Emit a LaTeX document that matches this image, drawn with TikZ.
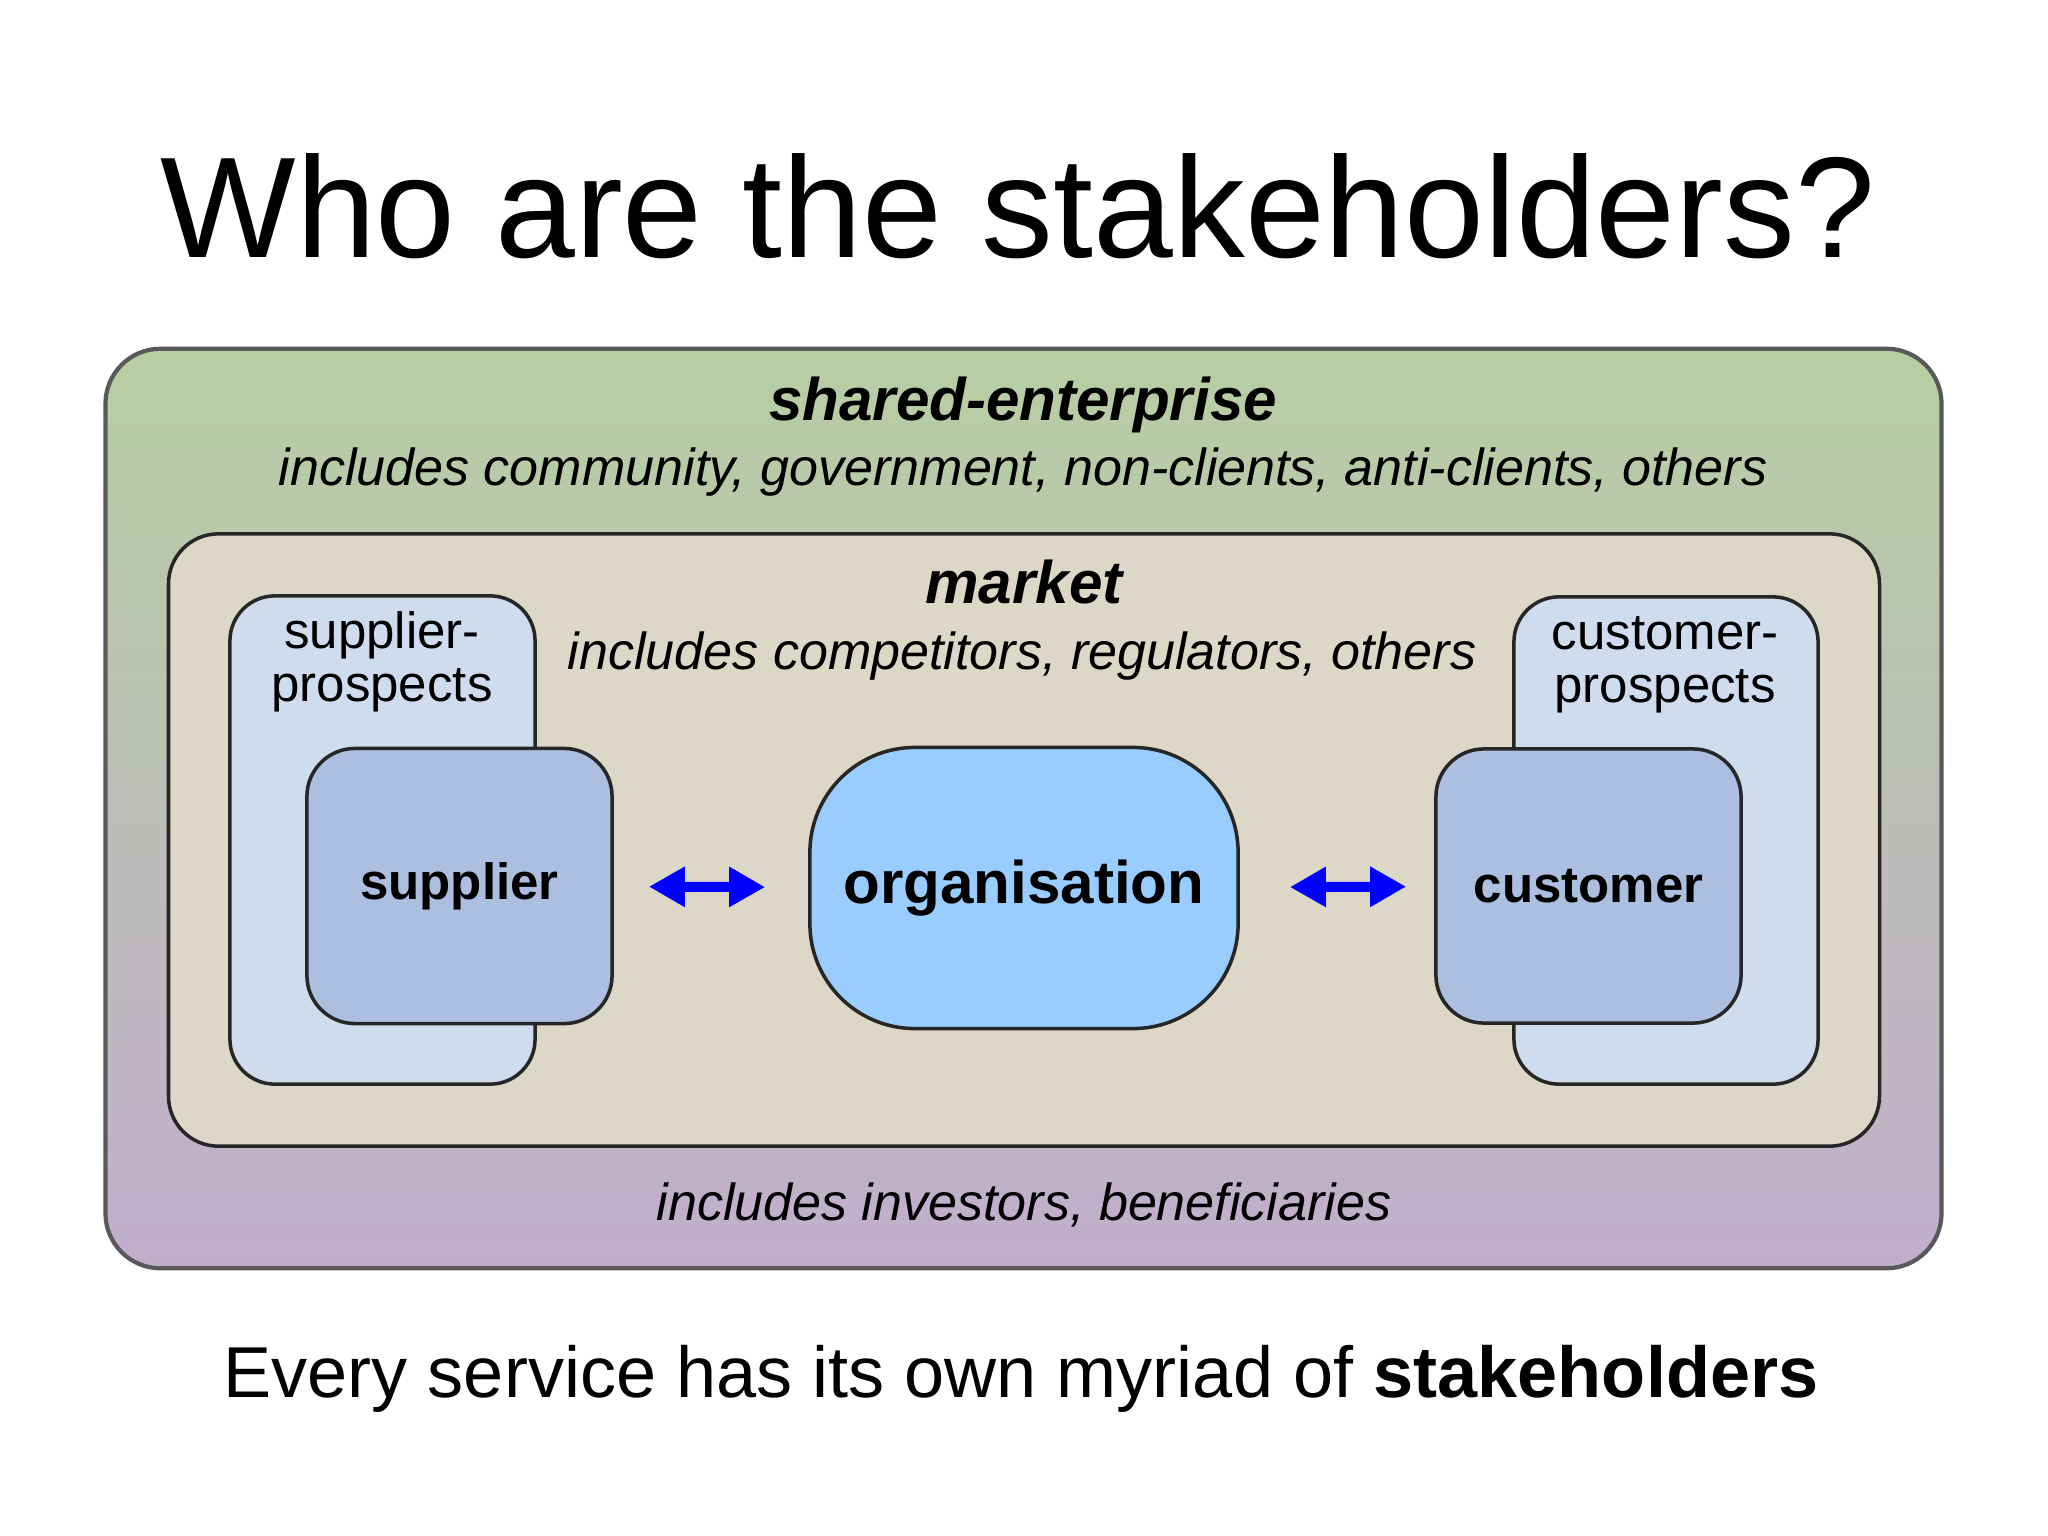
\documentclass[tikz,border=0pt]{standalone}
\usepackage{fontspec}
\setmainfont{Liberation Sans}
\usetikzlibrary{arrows.meta}

\definecolor{enterprisetop}{RGB}{183,206,163}
\definecolor{enterprisebot}{RGB}{193,174,204}
\definecolor{marketfill}{RGB}{221,215,200}
\definecolor{prospectfill}{RGB}{207,220,238}
\definecolor{partyfill}{RGB}{173,191,225}
\definecolor{orgfill}{RGB}{153,204,255}
\definecolor{arrowblue}{RGB}{0,0,255}

\begin{document}
\begin{tikzpicture}[x=0.01cm, y=-0.01cm,
  box/.style={draw=black!85, line width=1pt, inner sep=0pt},
  link/.style={arrowblue, line width=0.1cm, {Triangle[length=0.36cm,width=0.38cm]}-{Triangle[length=0.36cm,width=0.38cm]}},
  head/.style={anchor=base, font=\fontsize{17.1}{20}\selectfont\bfseries\itshape},
  note/.style={anchor=base, font=\fontsize{14.8}{18}\selectfont\itshape},
  tag/.style={anchor=base, align=center, font=\fontsize{14.5}{14.8}\selectfont}]
\useasboundingbox (0,0) rectangle (2048,1536);
\fill[white] (0,0) rectangle (2048,1536);
\node[anchor=base, font=\fontsize{40.8}{48}\selectfont] (title) at (1018,257) {Who are the stakeholders?};
\node[box, draw=black!65, line width=1.2pt, rounded corners=0.55cm, top color=enterprisetop, bottom color=enterprisebot, minimum width=18.35cm, minimum height=9.19cm] (enterprise) at (1023.5,808.5) {};
\node[head] (enterprisetitle) at (1023,420) {shared-enterprise};
\node[note] (enterprisenote) at (1023,485) {includes community, government, non-clients, anti-clients, others};
\node[box, fill=marketfill, rounded corners=0.5cm, minimum width=17.10cm, minimum height=6.12cm] (market) at (1024,840) {};
\node[head] (markettitle) at (1024,603) {market};
\node[note] (marketnote) at (1022,669) {includes competitors, regulators, others};
\node[note] (investornote) at (1024,1220) {includes investors, beneficiaries};
% prospects behind the parties
\node[box, fill=prospectfill, rounded corners=0.45cm, minimum width=3.05cm, minimum height=4.88cm] (sprospects) at (382.5,840) {};
\node[tag] (sprospectstext) at (382,701) {supplier-\\prospects};
\node[box, fill=prospectfill, rounded corners=0.45cm, minimum width=3.04cm, minimum height=4.87cm] (cprospects) at (1666,840.5) {};
\node[tag] (cprospectstext) at (1665,702) {customer-\\prospects};
\node[box, fill=partyfill, rounded corners=0.48cm, minimum width=3.05cm, minimum height=2.75cm, font=\fontsize{14.5}{17}\selectfont\bfseries] (supplier) at (459.5,886) {supplier};
\node[box, fill=partyfill, rounded corners=0.48cm, minimum width=3.05cm, minimum height=2.74cm, font=\fontsize{14.5}{17}\selectfont\bfseries] (customer) at (1588.5,886) {customer};
\node[box, fill=orgfill, rounded corners=1.05cm, minimum width=4.28cm, minimum height=2.81cm, font=\fontsize{17.1}{20}\selectfont\bfseries] (organisation) at (1024,888) {organisation};
\draw[link, shorten <=0.35cm, shorten >=0.43cm] (supplier) -- (organisation);
\draw[link, shorten <=0.50cm, shorten >=0.28cm] (organisation) -- (customer);
\node[anchor=base, font=\fontsize{20.5}{24}\selectfont] (caption) at (1021,1397) {Every service has its own myriad of \textbf{stakeholders}};
\end{tikzpicture}
\end{document}
